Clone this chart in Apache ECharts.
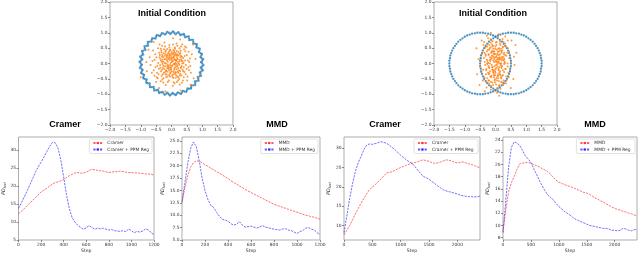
<!DOCTYPE html>
<html><head><meta charset="utf-8">
<script src="https://cdn.jsdelivr.net/npm/echarts@6/dist/echarts.min.js"></script>
<style>html,body{margin:0;padding:0;background:#fff}#c{width:640px;height:254px}</style>
</head><body><div id="c"></div>
<script>
// ---------------- DATA ----------------
const SCATTER_TICKS = [-2, -1.5, -1, -0.5, 0, 0.5, 1, 1.5, 2];
const STEP_TICKS_A = [0, 200, 400, 600, 800, 1000, 1200];
const STEP_TICKS_B = [0, 500, 1000, 1500, 2000];
const Y_TICKS_1 = [5, 10, 15, 20, 25, 30];
const Y_TICKS_2 = [5, 7.5, 10, 12.5, 15, 17.5, 20, 22.5, 25];
const Y_TICKS_3 = [10, 15, 20, 25, 30];
const Y_TICKS_4 = [8, 10, 12, 14, 16, 18, 20, 22, 24];

const STEPS_A = [0,25,50,75,100,125,150,175,200,225,250,275,300,325,350,375,400,425,450,475,500,525,550,575,600,625,650,675,700,725,750,775,800,825,850,875,900,925,950,975,1000,1025,1050,1075,1100,1125,1150,1175,1200];
const STEPS_B = [0,50,100,150,200,250,300,350,400,450,500,550,600,650,700,750,800,850,900,950,1000,1050,1100,1150,1200,1250,1300,1350,1400,1450,1500,1550,1600,1650,1700,1750,1800,1850,1900,1950,2000,2050,2100,2150,2200,2250,2300,2350,2400];

const CRAMER_L = [12.3,13.0,13.7,14.5,15.3,16.0,16.8,17.6,18.4,18.9,19.4,20.0,20.6,21.0,21.2,21.5,21.9,22.4,22.9,23.3,23.7,23.8,23.6,23.7,23.9,24.3,24.7,24.6,24.4,24.3,24.2,24.0,23.8,23.9,24.1,24.0,24.2,24.1,23.9,23.8,23.8,23.7,23.7,23.6,23.5,23.4,23.4,23.3,23.1];
const CRAMER_PPM_L = [13.8,15.3,16.9,18.6,20.3,22.1,23.9,25.4,26.7,28.1,29.6,31.0,32.2,32.1,30.6,27.2,22.6,17.6,13.8,11.2,10.0,9.1,8.5,8.0,8.4,9.0,8.5,8.0,8.3,8.1,8.3,8.0,7.8,7.9,7.6,7.5,7.4,7.6,7.3,8.1,7.6,7.0,7.4,7.2,7.5,8.1,7.8,7.0,6.5];
const MMD_L = [12.5,15.6,18.0,19.7,20.6,21.0,20.9,20.6,20.2,19.9,19.5,19.2,18.8,18.5,18.1,17.8,17.4,17.0,16.6,16.3,15.9,15.6,15.2,14.9,14.6,14.3,14.0,13.7,13.4,13.1,12.8,12.5,12.2,12.0,11.8,11.6,11.4,11.2,11.0,10.8,10.6,10.4,10.2,10.0,9.9,9.7,9.6,9.4,9.2];
const MMD_PPM_L = [12.8,16.5,20.5,23.5,24.8,23.8,21.0,17.5,15.0,13.2,12.0,11.6,10.6,9.8,9.2,9.0,8.8,8.3,8.0,8.2,8.7,8.0,7.6,7.7,7.8,7.6,7.4,7.6,7.9,7.6,7.5,7.3,7.2,7.1,7.0,7.2,7.3,7.0,6.9,6.6,6.3,6.7,6.9,7.4,7.5,7.2,7.0,6.5,6.1];
const CRAMER_R = [7.6,8.8,10.0,11.5,13.0,14.4,15.8,17.0,18.2,19.3,20.0,20.6,21.3,22.0,22.8,23.6,23.8,23.9,24.3,24.7,25.0,25.3,25.6,25.9,26.1,26.3,26.5,26.8,27.0,26.8,26.6,26.3,26.1,26.2,26.4,26.7,27.0,26.9,26.7,26.4,26.2,26.3,26.5,26.2,26.0,25.8,25.5,25.2,25.0];
const CRAMER_PPM_R = [8.2,12.5,17.0,20.8,24.0,26.2,27.8,29.6,30.8,31.1,31.0,31.2,31.4,31.7,31.5,31.3,30.8,30.2,29.6,28.9,28.2,27.6,27.0,26.5,26.1,25.3,24.4,23.5,22.7,22.4,22.0,21.4,20.9,20.3,19.8,19.3,19.0,18.8,18.6,18.4,18.2,17.9,17.7,17.6,17.5,17.5,17.4,17.5,17.6];
const MMD_R = [9.0,12.5,15.5,17.0,18.0,19.2,20.1,20.2,20.3,20.3,20.2,20.0,19.8,19.6,19.3,19.1,18.8,18.4,17.9,17.4,17.1,16.9,16.7,16.5,16.4,16.2,16.0,15.8,15.6,15.4,15.3,15.1,14.8,14.5,14.3,14.0,13.8,13.5,13.3,13.0,12.8,12.6,12.5,12.3,12.2,12.0,11.9,11.7,11.6];
const MMD_PPM_R = [8.8,14.0,19.5,22.8,23.7,23.5,23.1,22.3,21.4,20.9,20.3,19.3,18.4,17.4,16.5,15.7,15.0,14.6,14.2,13.6,13.1,12.7,12.3,12.0,11.7,11.3,11.0,10.8,10.6,10.4,10.2,10.0,9.9,9.8,9.7,9.6,9.5,9.5,9.4,9.2,9.2,9.1,9.2,9.5,9.4,9.2,9.1,9.3,9.3];

const LEFT_RING = [
[1.00,0.00],[1.00,0.09],[0.98,0.17],[0.97,0.26],[0.94,0.34],[0.91,0.42],[0.87,0.50],[0.82,0.57],[0.77,0.64],[0.71,0.71],[0.64,0.77],[0.57,0.82],[0.50,0.87],[0.42,0.91],[0.34,0.94],[0.26,0.97],[0.17,0.98],[0.09,1.00],
[0.00,1.00],[-0.09,1.00],[-0.17,0.98],[-0.26,0.97],[-0.34,0.94],[-0.42,0.91],[-0.50,0.87],[-0.57,0.82],[-0.64,0.77],[-0.71,0.71],[-0.77,0.64],[-0.82,0.57],[-0.87,0.50],[-0.91,0.42],[-0.94,0.34],[-0.97,0.26],[-0.98,0.17],[-1.00,0.09],
[-1.00,0.00],[-1.00,-0.09],[-0.98,-0.17],[-0.97,-0.26],[-0.94,-0.34],[-0.91,-0.42],[-0.87,-0.50],[-0.82,-0.57],[-0.77,-0.64],[-0.71,-0.71],[-0.64,-0.77],[-0.57,-0.82],[-0.50,-0.87],[-0.42,-0.91],[-0.34,-0.94],[-0.26,-0.97],[-0.17,-0.98],[-0.09,-1.00],
[0.00,-1.00],[0.09,-1.00],[0.17,-0.98],[0.26,-0.97],[0.34,-0.94],[0.42,-0.91],[0.50,-0.87],[0.57,-0.82],[0.64,-0.77],[0.71,-0.71],[0.77,-0.64],[0.82,-0.57],[0.87,-0.50],[0.91,-0.42],[0.94,-0.34],[0.97,-0.26],[0.98,-0.17],[1.00,-0.09],
[0.96,0.04],[1.03,0.14],[0.94,0.21],[0.99,0.31],[0.89,0.37],[0.92,0.48],[0.81,0.52],[0.82,0.63],[0.71,0.65],[0.70,0.77],[0.58,0.76],[0.56,0.88],[0.44,0.85],[0.40,0.96],[0.29,0.92],[0.22,1.02],[0.13,0.95],[0.05,1.04],
[-0.04,0.96],[-0.14,1.03],[-0.21,0.94],[-0.31,0.99],[-0.37,0.89],[-0.48,0.92],[-0.52,0.81],[-0.63,0.82],[-0.65,0.71],[-0.77,0.70],[-0.76,0.58],[-0.88,0.56],[-0.85,0.44],[-0.96,0.40],[-0.92,0.29],[-1.02,0.22],[-0.95,0.13],[-1.04,0.05],
[-0.96,-0.04],[-1.03,-0.14],[-0.94,-0.21],[-0.99,-0.31],[-0.89,-0.37],[-0.92,-0.48],[-0.81,-0.52],[-0.82,-0.63],[-0.71,-0.65],[-0.70,-0.77],[-0.58,-0.76],[-0.56,-0.88],[-0.44,-0.85],[-0.40,-0.96],[-0.29,-0.92],[-0.22,-1.02],[-0.13,-0.95],[-0.05,-1.04],
[0.04,-0.96],[0.14,-1.03],[0.21,-0.94],[0.31,-0.99],[0.37,-0.89],[0.48,-0.92],[0.52,-0.81],[0.63,-0.82],[0.65,-0.71],[0.77,-0.70],[0.76,-0.58],[0.88,-0.56],[0.85,-0.44],[0.96,-0.40],[0.92,-0.29],[1.02,-0.22],[0.95,-0.13],[1.04,-0.05]
];

const RIGHT_RINGS = [
[0.50,0.00],[0.50,0.09],[0.48,0.17],[0.47,0.26],[0.44,0.34],[0.41,0.42],[0.37,0.50],[0.32,0.57],[0.27,0.64],[0.21,0.71],[0.14,0.77],[0.07,0.82],[0.00,0.87],[-0.08,0.91],[-0.16,0.94],[-0.24,0.97],[-0.33,0.98],[-0.41,1.00],
[-0.50,1.00],[-0.59,1.00],[-0.67,0.98],[-0.76,0.97],[-0.84,0.94],[-0.92,0.91],[-1.00,0.87],[-1.07,0.82],[-1.14,0.77],[-1.21,0.71],[-1.27,0.64],[-1.32,0.57],[-1.37,0.50],[-1.41,0.42],[-1.44,0.34],[-1.47,0.26],[-1.48,0.17],[-1.50,0.09],
[-1.50,0.00],[-1.50,-0.09],[-1.48,-0.17],[-1.47,-0.26],[-1.44,-0.34],[-1.41,-0.42],[-1.37,-0.50],[-1.32,-0.57],[-1.27,-0.64],[-1.21,-0.71],[-1.14,-0.77],[-1.07,-0.82],[-1.00,-0.87],[-0.92,-0.91],[-0.84,-0.94],[-0.76,-0.97],[-0.67,-0.98],[-0.59,-1.00],
[-0.50,-1.00],[-0.41,-1.00],[-0.33,-0.98],[-0.24,-0.97],[-0.16,-0.94],[-0.08,-0.91],[0.00,-0.87],[0.07,-0.82],[0.14,-0.77],[0.21,-0.71],[0.27,-0.64],[0.32,-0.57],[0.37,-0.50],[0.41,-0.42],[0.44,-0.34],[0.47,-0.26],[0.48,-0.17],[0.50,-0.09],
[-0.50,0.00],[-0.50,0.09],[-0.48,0.17],[-0.47,0.26],[-0.44,0.34],[-0.41,0.42],[-0.37,0.50],[-0.32,0.57],[-0.27,0.64],[-0.21,0.71],[-0.14,0.77],[-0.07,0.82],[0.00,0.87],[0.08,0.91],[0.16,0.94],[0.24,0.97],[0.33,0.98],[0.41,1.00],
[0.50,1.00],[0.59,1.00],[0.67,0.98],[0.76,0.97],[0.84,0.94],[0.92,0.91],[1.00,0.87],[1.07,0.82],[1.14,0.77],[1.21,0.71],[1.27,0.64],[1.32,0.57],[1.37,0.50],[1.41,0.42],[1.44,0.34],[1.47,0.26],[1.48,0.17],[1.50,0.09],
[1.50,0.00],[1.50,-0.09],[1.48,-0.17],[1.47,-0.26],[1.44,-0.34],[1.41,-0.42],[1.37,-0.50],[1.32,-0.57],[1.27,-0.64],[1.21,-0.71],[1.14,-0.77],[1.07,-0.82],[1.00,-0.87],[0.92,-0.91],[0.84,-0.94],[0.76,-0.97],[0.67,-0.98],[0.59,-1.00],
[0.50,-1.00],[0.41,-1.00],[0.33,-0.98],[0.24,-0.97],[0.16,-0.94],[0.08,-0.91],[0.00,-0.87],[-0.07,-0.82],[-0.14,-0.77],[-0.21,-0.71],[-0.27,-0.64],[-0.32,-0.57],[-0.37,-0.50],[-0.41,-0.42],[-0.44,-0.34],[-0.47,-0.26],[-0.48,-0.17],[-0.50,-0.09]
];

const LEFT_CLOUD = [
[0.12,-0.05],[-0.31,0.22],[0.44,0.10],[-0.08,-0.37],[0.27,0.31],[-0.52,-0.12],[0.03,0.18],[0.19,-0.42],[-0.21,-0.09],[0.36,-0.20],
[-0.14,0.47],[0.58,0.05],[-0.40,0.35],[0.07,-0.61],[-0.26,-0.48],[0.31,0.55],[-0.03,0.02],[0.15,0.26],[-0.47,-0.30],[0.22,-0.15],
[-0.11,0.33],[0.40,-0.45],[-0.62,0.08],[0.09,0.41],[-0.18,-0.22],[0.50,0.28],[-0.35,-0.58],[0.01,-0.25],[0.26,0.07],[-0.07,0.60],
[0.63,-0.30],[-0.29,0.12],[0.17,-0.02],[-0.44,0.50],[0.34,-0.63],[-0.16,-0.35],[0.05,0.29],[-0.55,-0.40],[0.45,0.40],[-0.02,-0.12],
[0.28,-0.33],[-0.37,-0.05],[0.11,0.52],[-0.22,0.25],[0.55,-0.12],[-0.09,-0.55],[0.20,0.15],[-0.49,0.20],[0.38,0.18],[-0.05,-0.42],
[0.13,-0.28],[-0.33,0.42],[0.47,-0.05],[-0.19,-0.70],[0.02,0.10],[-0.58,-0.22],[0.30,0.42],[-0.12,0.06],[0.21,-0.55],[-0.41,-0.17],
[0.08,0.36],[-0.25,-0.30],[0.60,0.16],[-0.04,0.45],[0.33,-0.08],[-0.68,-0.05],[0.16,0.65],[-0.30,0.58],[0.42,-0.28],[-0.15,0.19],
[0.04,-0.72],[-0.38,0.28],[0.24,-0.22],[-0.06,0.30],[0.52,-0.42],[-0.27,-0.62],[0.10,0.00],[-0.45,-0.48],[0.35,0.62],[-0.20,0.38],
[0.18,-0.10],[-0.53,0.30],[0.29,0.20],[-0.10,-0.18],[0.48,0.52],[-0.34,-0.25],[0.06,-0.47],[-0.23,0.68],[0.39,0.02],[-0.01,0.24],
[0.25,-0.50],[-0.60,0.42],[0.14,0.11],[-0.17,-0.45],[0.57,-0.22],[-0.36,0.15],[0.00,0.38],[0.32,-0.38],[-0.28,-0.14],[0.12,0.48],
[-0.43,0.02],[0.23,0.37],[-0.13,-0.27],[0.66,0.30],[-0.08,0.16],[0.37,-0.55],[-0.50,-0.60],[0.09,-0.16],[-0.24,0.46],[0.43,0.24],
[-0.04,-0.32],[0.19,0.58],[-0.32,-0.40],[0.53,0.10],[-0.18,0.00],[0.27,-0.68],[-0.64,-0.30],[0.07,0.22],[-0.39,0.62],[0.31,-0.12],
[-0.12,-0.60],[0.46,-0.35],[-0.26,0.33],[0.15,-0.38],[-0.07,0.52],[0.61,-0.08],[-0.46,-0.08],[0.03,-0.06],[0.20,0.30],[-0.30,-0.52],
[0.41,0.46],[-0.15,0.28],[0.10,-0.65],[-0.55,0.12],[0.36,0.08],[-0.02,-0.20],[0.26,0.50],[-0.42,-0.35],[0.14,-0.30],[-0.21,0.55],
[0.49,-0.18],[-0.09,-0.08],[0.30,0.25],[-0.35,0.48],[0.05,0.62],[-0.71,0.20],[0.22,-0.45],[-0.14,-0.15],[0.56,0.38],[-0.27,0.06],
[0.11,0.14],[-0.48,-0.45],[0.38,-0.25],[-0.06,0.42],[0.17,-0.60],[-0.31,-0.20],[0.44,0.55],[-0.19,0.15],[0.02,-0.38],[0.51,-0.55],
[-1.00,-0.45],[0.92,-0.38],[0.30,-0.88],[-0.75,0.45],[0.70,0.62],[-0.20,-0.90],[0.62,-0.70],[-0.80,-0.25],[0.05,0.82],[-0.58,0.70],
[0.78,0.15],[-0.40,-0.80],[0.28,0.78],[-0.82,0.05],[0.72,-0.48],
[0.05,0.08],[-0.12,-0.03],[0.18,0.20],[-0.23,0.14],[0.09,-0.21],[-0.06,0.27],[0.25,-0.04],[-0.17,-0.24],[0.02,-0.09],[0.14,0.34],
[-0.29,-0.02],[0.21,0.05],[-0.03,-0.29],[0.32,0.14],[-0.20,0.31],[0.07,0.19],[-0.10,-0.13],[0.16,-0.19],[-0.34,0.09],[0.00,0.15],
[0.28,-0.24],[-0.15,0.10],[0.11,-0.33],[-0.24,-0.18],[0.04,0.33],[0.19,-0.07],[-0.08,0.21],[0.35,0.00],[-0.30,0.28],[0.13,0.02],
[-0.01,-0.17],[0.23,0.26],[-0.19,-0.36],[0.08,-0.02],[-0.27,0.20],[0.30,-0.15],[-0.05,0.11],[0.17,0.41],[-0.13,-0.42],[0.01,0.05],
[0.26,0.12],[-0.36,-0.14],[0.10,0.25],[-0.09,0.37],[0.22,-0.30],[-0.22,0.02],[0.06,-0.35],[0.34,0.22],[-0.16,0.23],[0.12,-0.12],
[-0.04,-0.05],[0.20,-0.26],[-0.26,-0.07],[0.15,0.08],[-0.11,0.15],[0.03,-0.44],[0.29,0.34],[-0.33,0.36],[0.09,0.12],[-0.07,-0.23],
[0.24,0.00],[-0.18,0.42],[0.40,-0.12],[-0.02,0.19],[0.14,-0.46],[-0.39,0.20],[0.18,0.28],[-0.14,-0.08],[0.06,0.44],[-0.28,-0.35],
[0.33,0.08],[-0.06,-0.14],[0.11,0.30],[-0.21,-0.28],[0.27,-0.40],[-0.01,0.32],[0.16,0.12],[-0.31,0.05],[0.07,-0.28],[-0.12,0.26]
];

const RIGHT_CLOUD = [
[0.05,0.12],[-0.22,-0.35],[0.31,0.28],[-0.10,0.55],[0.18,-0.60],[-0.35,0.05],[0.02,-0.15],[0.26,0.70],[-0.15,-0.72],[0.40,-0.10],
[-0.28,0.40],[0.12,0.02],[-0.05,-0.45],[0.22,0.42],[-0.40,-0.20],[0.08,0.85],[-0.18,0.20],[0.35,-0.42],[-0.02,0.30],[0.15,-0.25],
[-0.30,-0.60],[0.45,0.18],[-0.12,-0.05],[0.06,-0.80],[-0.25,0.65],[0.28,-0.02],[-0.08,0.48],[0.20,0.10],[-0.45,0.30],[0.00,-0.30],
[0.33,0.55],[-0.20,-0.15],[0.10,0.38],[-0.36,-0.45],[0.25,-0.70],[-0.04,0.05],[0.16,0.60],[-0.14,0.35],[0.42,-0.30],[-0.27,-0.02],
[0.03,0.22],[-0.50,-0.10],[0.19,-0.48],[-0.09,0.72],[0.38,0.35],[-0.21,-0.55],[0.07,-0.10],[-0.33,0.52],[0.29,0.15],[-0.01,-0.62],
[0.14,-0.35],[-0.17,0.08],[0.50,0.05],[-0.06,-0.28],[0.23,0.80],[-0.38,0.18],[0.11,-0.58],[-0.24,-0.30],[0.36,-0.55],[-0.11,0.62],
[0.04,0.45],[-0.29,-0.78],[0.27,0.30],[-0.13,-0.40],[0.17,0.00],[-0.42,0.42],[0.09,0.15],[-0.03,-0.88],[0.32,-0.18],[-0.19,0.50],
[0.21,-0.08],[-0.31,-0.35],[0.01,0.68],[-0.07,0.10],[0.40,0.50],[-0.23,0.28],[0.13,-0.70],[-0.46,-0.28],[0.30,0.05],[-0.10,-0.20],
[0.06,0.32],[-0.34,-0.05],[0.24,-0.38],[-0.16,0.78],[0.47,-0.22],[-0.02,-0.52],[0.18,0.48],[-0.26,0.00],[0.10,-0.22],[-0.39,0.60],
[0.35,0.25],[-0.12,0.40],[0.02,-0.05],[-0.21,-0.65],[0.26,-0.55],[-0.05,0.20],[0.15,0.72],[-0.32,0.25],[0.43,-0.45],[-0.18,-0.25],
[0.08,-0.40],[-0.48,0.08],[0.22,0.22],[-0.08,-0.70],[0.31,0.65],[-0.27,-0.48],[0.00,0.55],[0.12,-0.12],[-0.36,0.35],[0.39,0.00],
[-0.14,0.15],[0.05,-0.95],[-0.24,0.82],[0.28,-0.28],[-0.04,0.38],[0.16,-0.82],[-0.41,-0.55],[0.20,0.35],[-0.09,-0.12],[0.34,-0.65],
[-0.20,0.45],[0.07,0.05],[-0.30,-0.18],[0.45,0.38],[-0.01,-0.38],[0.25,0.12],[-0.15,-0.85],[0.11,0.28],[-0.37,0.70],[0.19,-0.15],
[-0.55,0.15],[0.60,0.22],[-0.60,-0.35],[0.58,-0.50],[0.12,-1.05],[-0.45,0.75],[0.65,0.60],[0.52,0.75],[-0.52,-0.70],[0.32,0.88],
[-0.28,0.90],[0.50,-0.80],[-0.62,0.50],[0.62,-0.05],[-0.15,1.00],[0.40,0.75],[-0.35,-0.90],[0.68,0.35],[0.10,0.95],[-0.20,0.60],
[0.03,-0.48],[-0.12,0.25],[0.24,0.55],[-0.06,-0.33],[0.14,0.18],[-0.23,-0.08],
[0.02,0.05],[-0.10,-0.20],[0.15,0.30],[-0.18,0.12],[0.08,-0.35],[-0.05,0.40],[0.20,-0.10],[-0.14,-0.45],[0.00,-0.18],[0.12,0.50],
[-0.24,0.02],[0.17,0.15],[-0.03,-0.55],[0.26,0.20],[-0.16,0.52],[0.05,0.28],[-0.08,-0.28],[0.13,-0.30],[-0.28,0.12],[0.00,0.20],
[0.22,-0.40],[-0.12,0.18],[0.09,-0.48],[-0.20,-0.32],[0.03,0.60],[0.16,-0.05],[-0.06,0.32],[0.30,0.02],[-0.25,0.45],[0.10,0.06],
[-0.01,-0.25],[0.19,0.40],[-0.15,-0.60],[0.06,-0.02],[-0.22,0.30],[0.24,-0.22],[-0.04,0.15],[0.14,0.65],[-0.10,-0.62],[0.01,0.10],
[0.21,0.18],[-0.30,-0.22],[0.08,0.38],[-0.07,0.58],[0.18,-0.45],[-0.18,0.00],[0.05,-0.55],[0.28,0.35],[-0.13,0.35],[0.10,-0.18],
[-0.03,-0.08],[0.16,-0.38],[-0.21,-0.12],[0.12,0.12],[-0.09,0.24],[0.02,-0.68],[0.24,0.52],[-0.27,0.55],[0.07,0.18],[-0.05,-0.38],
[0.19,0.00],[-0.15,0.68],[0.33,-0.18],[-0.02,0.30],[0.11,-0.72],[-0.32,0.30],[0.14,0.42],[-0.11,-0.12],[0.04,0.70],[-0.23,-0.55],
[0.27,0.10],[-0.05,-0.22],[0.09,0.48],[-0.17,-0.42],[0.22,-0.62],[-0.01,0.48],[0.13,0.20],[-0.26,0.08],[0.06,-0.42],[-0.10,0.40]
];

// ---------------- CHART ----------------
const FONT = 'DejaVu Sans';
const TXT = '#333';
const BORDER = '#8a8a8a';
const RED = 'rgba(255,40,40,0.75)';
const BLUE = 'rgba(40,40,255,0.75)';
const zip = (xs, ys) => xs.map((x, i) => [x, ys[i]]);
const minusFmt = d => v => (v < 0 ? '\u2212' : '') + Math.abs(v).toFixed(d);

function grid(left, top, width, height) {
  return { left, top, width, height, show: true, borderColor: BORDER, borderWidth: 0.7, backgroundColor: 'transparent', containLabel: false };
}
function axis(gi, min, max, ticks, fmt, extra) {
  return Object.assign({
    type: 'value', gridIndex: gi, min, max, scale: true,
    axisLine: { show: false, onZero: false },
    splitLine: { show: false },
    axisTick: { show: true, length: 2, customValues: ticks, lineStyle: { color: '#444', width: 0.6 } },
    axisLabel: { customValues: ticks, formatter: fmt, fontSize: 4.4, color: TXT, margin: 2.5, fontFamily: FONT },
    nameTextStyle: { fontFamily: FONT, color: TXT, fontSize: 4.6 }
  }, extra || {});
}
const yName = {
  name: '{a|PD}{b|last}', nameLocation: 'middle', nameGap: 12, nameRotate: 90,
  nameTextStyle: { fontFamily: FONT, color: TXT, fontSize: 4.6,
    rich: { a: { fontSize: 4.8, fontStyle: 'italic', fontFamily: FONT, color: TXT },
            b: { fontSize: 3.4, fontStyle: 'italic', fontFamily: FONT, color: TXT, padding: [3, 0, 0, 0] } } }
};
const xName = { name: 'Step', nameLocation: 'middle', nameGap: 8 };

function lineSeries(name, gi, xs, ys, color) {
  return { type: 'line', name, xAxisIndex: gi, yAxisIndex: gi, data: zip(xs, ys), symbol: 'none', silent: true,
    lineStyle: { color, width: 0.9, type: [2.2, 1.1] }, itemStyle: { color }, animation: false };
}
function legend(names, right) {
  return { data: names, orient: 'vertical', right, top: 139, itemWidth: 9, itemHeight: 3, itemGap: 2.5,
    padding: [2, 3, 2, 3], backgroundColor: '#fff', borderColor: '#ccc', borderWidth: 0.6, borderRadius: 1.5,
    textStyle: { fontSize: 4.4, fontFamily: FONT, color: TXT, padding: [0, 0, 0, 0] }, selectedMode: false };
}
function title(text, x, y) {
  return { type: 'text', x, y, silent: true,
    style: { text, font: 'bold 9px "Liberation Sans"', fill: '#000', align: 'center', verticalAlign: 'middle' } };
}

const chart = echarts.init(document.getElementById('c'), null, { renderer: 'canvas' });
const intFmt = v => String(v);

chart.setOption({
  animation: false,
  backgroundColor: '#fff',
  grid: [
    grid(110, 2, 123, 123),
    grid(434, 2, 123, 123),
    grid(16, 137, 138, 105),
    grid(182, 137, 138, 103),
    grid(344, 137, 136, 105),
    grid(503, 137, 134, 103)
  ],
  xAxis: [
    axis(0, -2, 2, SCATTER_TICKS, minusFmt(1)),
    axis(1, -2, 2, SCATTER_TICKS, minusFmt(1)),
    axis(2, 0, 1200, STEP_TICKS_A, intFmt, xName),
    axis(3, 0, 1200, STEP_TICKS_A, intFmt, xName),
    axis(4, 0, 2400, STEP_TICKS_B, intFmt, xName),
    axis(5, 0, 2400, STEP_TICKS_B, intFmt, xName)
  ],
  yAxis: [
    axis(0, -2, 2, SCATTER_TICKS, minusFmt(1)),
    axis(1, -2, 2, SCATTER_TICKS, minusFmt(1)),
    axis(2, 5, 33.7, Y_TICKS_1, intFmt, yName),
    axis(3, 5, 25.8, Y_TICKS_2, v => v.toFixed(1), yName),
    axis(4, 6.3, 32.9, Y_TICKS_3, intFmt, yName),
    axis(5, 7.6, 24.5, Y_TICKS_4, intFmt, yName)
  ],
  legend: [
    legend(['Cramer', 'Cramer + PPM Reg'], 488),
    legend(['MMD', 'MMD + PPM Reg'], 322),
    legend(['Cramer ', 'Cramer + PPM Reg '], 162),
    legend(['MMD ', 'MMD + PPM Reg '], 5)
  ],
  series: [
    { type: 'scatter', xAxisIndex: 0, yAxisIndex: 0, data: LEFT_RING, symbolSize: 2.3, silent: true, itemStyle: { color: '#1f77b4' } },
    { type: 'scatter', xAxisIndex: 0, yAxisIndex: 0, data: LEFT_CLOUD, symbolSize: 2, silent: true, itemStyle: { color: '#ff7f0e' } },
    { type: 'scatter', xAxisIndex: 1, yAxisIndex: 1, data: RIGHT_RINGS, symbolSize: 2.3, silent: true, itemStyle: { color: '#1f77b4' } },
    { type: 'scatter', xAxisIndex: 1, yAxisIndex: 1, data: RIGHT_CLOUD, symbolSize: 2, silent: true, itemStyle: { color: '#ff7f0e' } },
    lineSeries('Cramer', 2, STEPS_A, CRAMER_L, RED),
    lineSeries('Cramer + PPM Reg', 2, STEPS_A, CRAMER_PPM_L, BLUE),
    lineSeries('MMD', 3, STEPS_A, MMD_L, RED),
    lineSeries('MMD + PPM Reg', 3, STEPS_A, MMD_PPM_L, BLUE),
    lineSeries('Cramer ', 4, STEPS_B, CRAMER_R, RED),
    lineSeries('Cramer + PPM Reg ', 4, STEPS_B, CRAMER_PPM_R, BLUE),
    lineSeries('MMD ', 5, STEPS_B, MMD_R, RED),
    lineSeries('MMD + PPM Reg ', 5, STEPS_B, MMD_PPM_R, BLUE)
  ],
  graphic: [
    title('Initial Condition', 172, 14),
    title('Initial Condition', 493, 14),
    title('Cramer', 65, 125),
    title('MMD', 277, 125),
    title('Cramer', 385, 125),
    title('MMD', 595, 125)
  ]
});
</script>
</body></html>
